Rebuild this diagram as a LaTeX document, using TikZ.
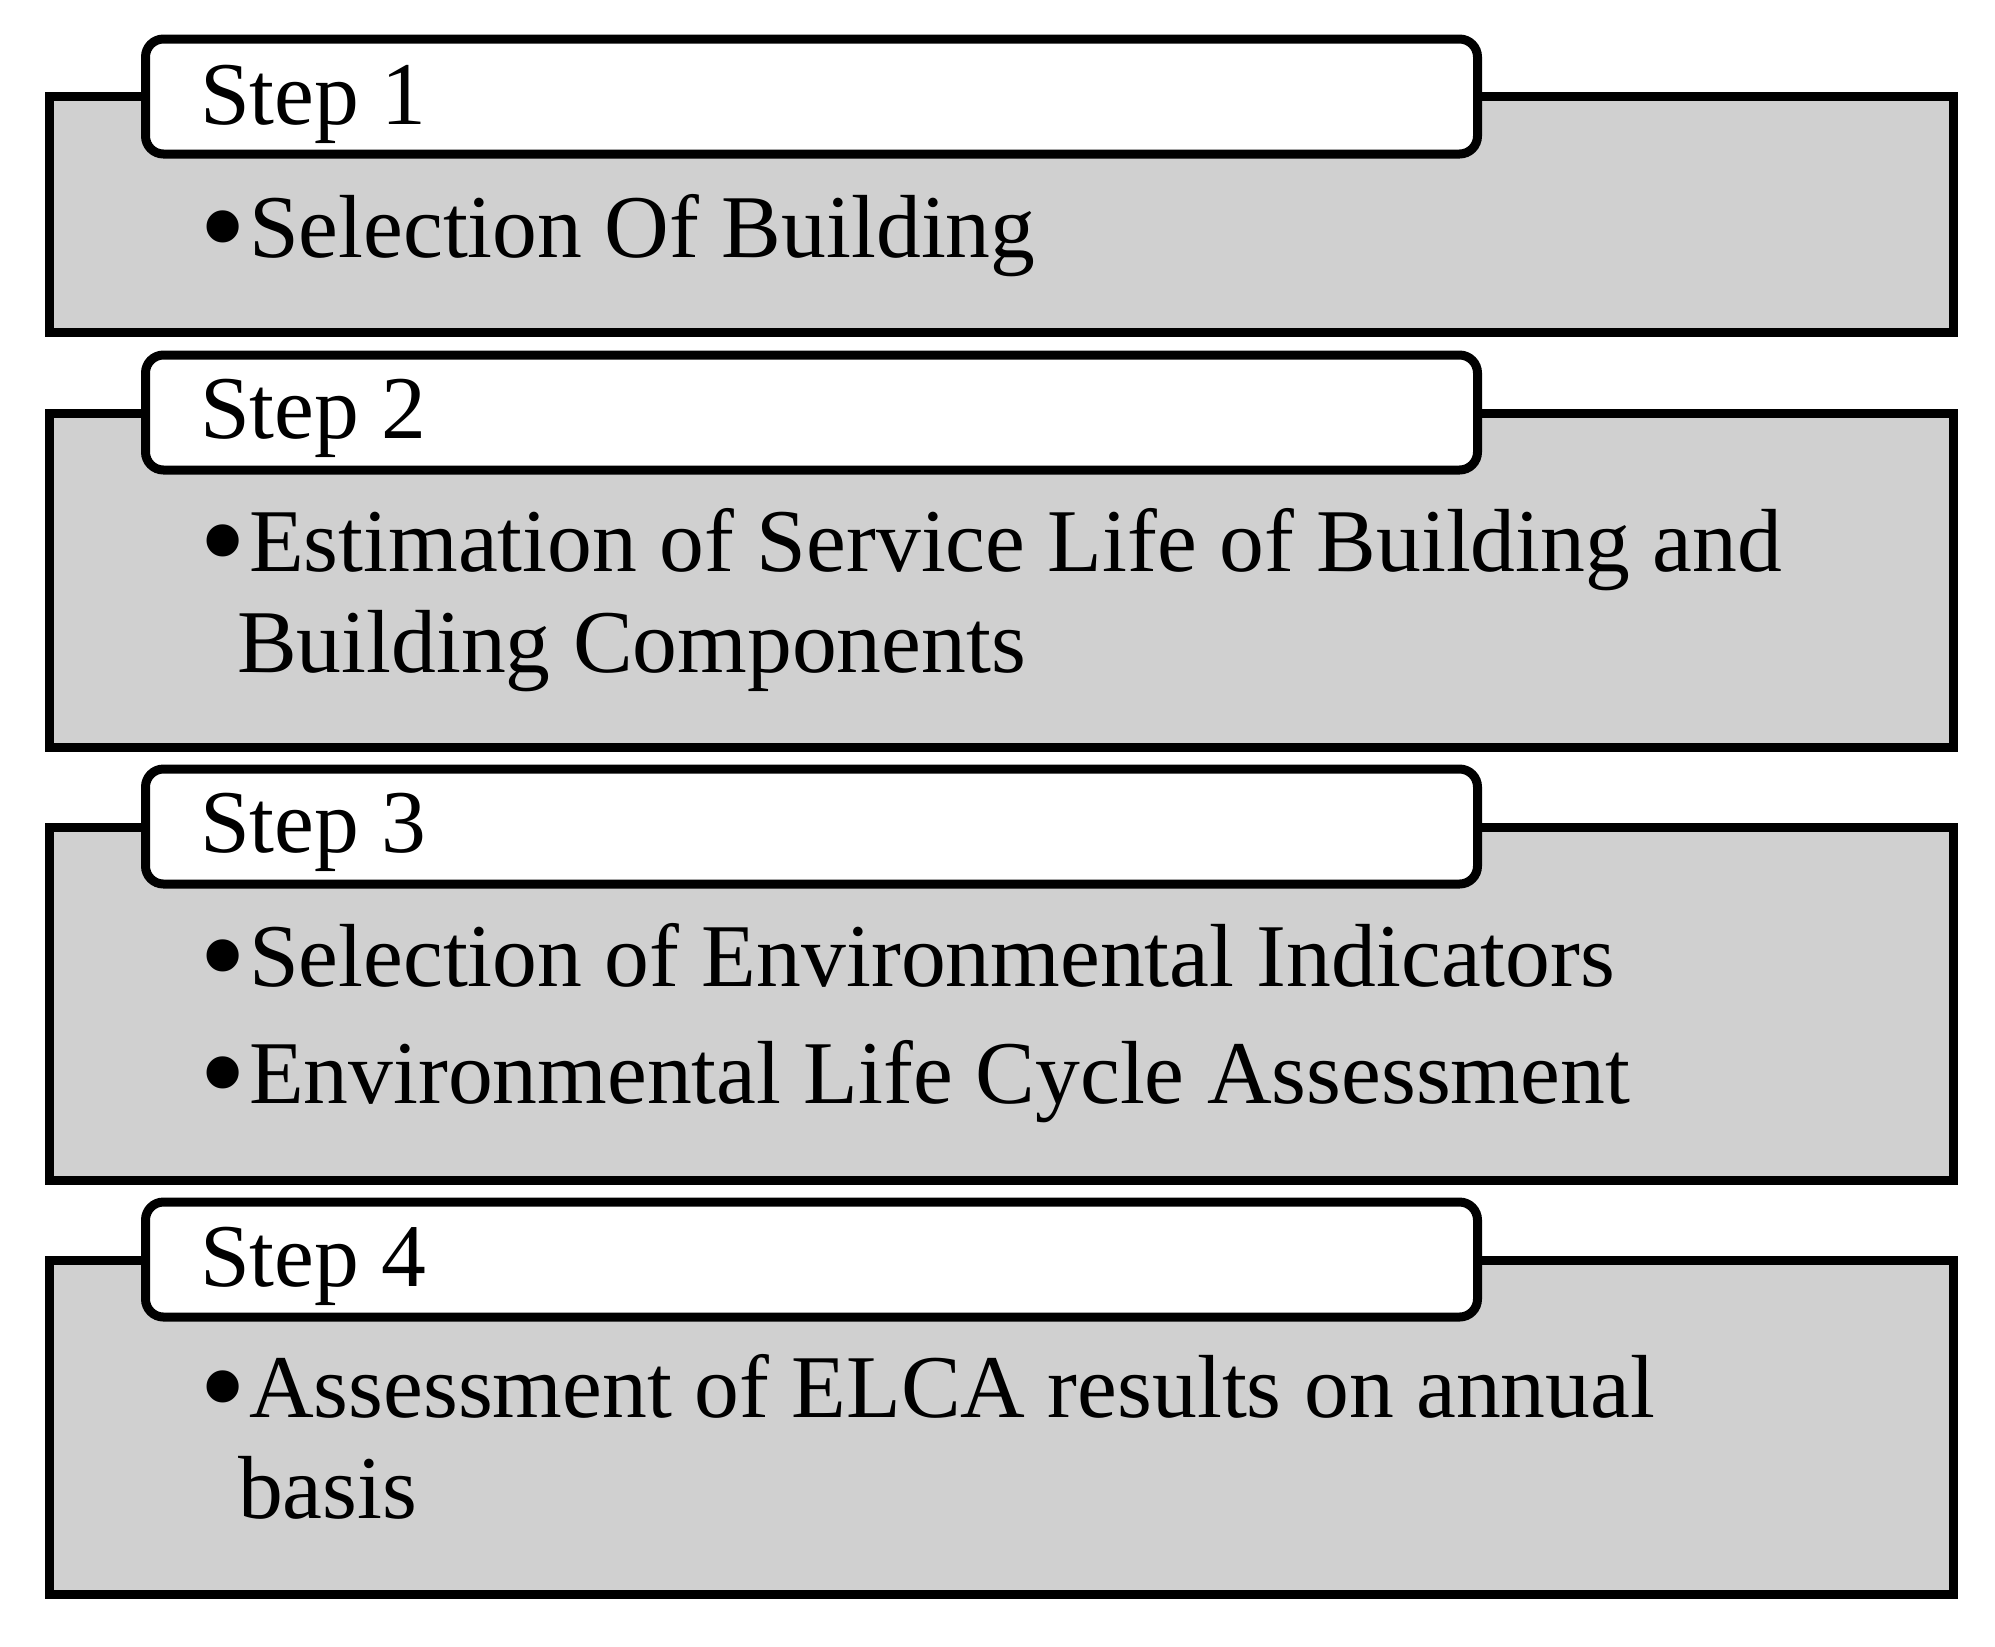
\documentclass[tikz,border=0pt]{standalone}
\usepackage{fontspec}
\usepackage{graphicx}
\setmainfont{Liberation Serif}
\newcommand{\bul}{\llap{\raisebox{-7.25pt}{\scalebox{1.5045}{•}}\hspace{1.1pt}}}
\begin{document}
\begin{tikzpicture}[x=0.5pt,y=-0.5pt,
  graybox/.style={draw=black,fill=boxgray,line width=4.5pt,rectangle,anchor=north west,inner sep=0pt,outer sep=0pt,minimum width=952pt},
  tabbox/.style={draw=black,fill=white,line width=4.5pt,rectangle,rounded corners=9pt,anchor=north west,inner sep=0pt,outer sep=0pt,minimum width=666pt,minimum height=57.5pt},
  txt/.style={anchor=base west,inner sep=0pt,outer sep=0pt,font=\fontsize{44.8}{51}\selectfont}]
\definecolor{boxgray}{RGB}{208,208,208}
\useasboundingbox (0,0) rectangle (1995,1646);
% Step 1
\node[graybox,minimum height=118pt] (g1) at (49.5,96.5) {};
\node[tabbox] (t1) at (145.5,39) {};
\node[txt] (s1) at (200,124) {Step 1};
\node[txt] (b1) at (249,257) {\bul Selection Of Building};
% Step 2
\node[graybox,minimum height=167pt] (g2) at (49.5,413) {};
\node[tabbox] (t2) at (145.5,355) {};
\node[txt] (s2) at (200,438) {Step 2};
\node[txt] (b2a) at (249,571) {\bul Estimation of Service Life of Building and};
\node[txt] (b2b) at (237,672) {Building Components};
% Step 3
\node[graybox,minimum height=176.5pt] (g3) at (49.5,827) {};
\node[tabbox] (t3) at (145.5,769) {};
\node[txt] (s3) at (200,852) {Step 3};
\node[txt] (b3a) at (249,986) {\bul Selection of Environmental Indicators};
\node[txt] (b3b) at (249,1103) {\bul Environmental Life Cycle Assessment};
% Step 4
\node[graybox,minimum height=167.25pt] (g4) at (49.5,1260) {};
\node[tabbox] (t4) at (145.5,1202) {};
\node[txt] (s4) at (200,1286) {Step 4};
\node[txt] (b4a) at (249,1417) {\bul Assessment of ELCA results on annual};
\node[txt] (b4b) at (238,1518) {basis};
\end{tikzpicture}
\end{document}
